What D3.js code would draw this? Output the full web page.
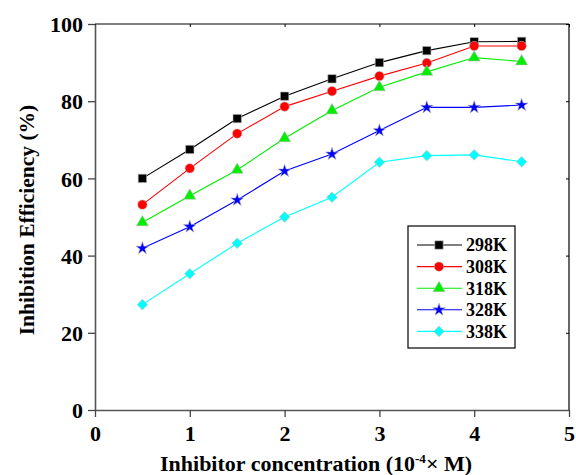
<!DOCTYPE html>
<html>
<head>
<meta charset="utf-8">
<script src="https://cdn.jsdelivr.net/npm/d3@7"></script>
<style>
  body { margin: 0; background: #fff; }
  text { font-family: "Liberation Serif", "Times New Roman", serif; font-weight: bold; }
</style>
</head>
<body>
<svg id="chart"></svg>
<script>
// 1) Data ------------------------------------------------------------
const concentration = [0.5, 1, 1.5, 2, 2.5, 3, 3.5, 4, 4.5];
const ie298 = [60.0, 67.5, 75.5, 81.3, 85.8, 90.0, 93.1, 95.4, 95.5];
const ie308 = [53.2, 62.6, 71.6, 78.6, 82.6, 86.5, 89.9, 94.3, 94.3];
const ie318 = [48.6, 55.5, 62.2, 70.4, 77.6, 83.6, 87.6, 91.3, 90.3];
const ie328 = [41.9, 47.5, 54.4, 61.9, 66.3, 72.4, 78.4, 78.4, 79.0];
const ie338 = [27.3, 35.3, 43.2, 50.0, 55.1, 64.2, 65.9, 66.1, 64.3];
const seriesNames = ['298K', '308K', '318K', '328K', '338K'];
const xTicks = [0, 1, 2, 3, 4, 5];
const yTicks = [0, 20, 40, 60, 80, 100];

const series = [
  { name: seriesNames[0], values: ie298, color: '#000000', symbol: d3.symbolSquare, size: 70, rot: 0 },
  { name: seriesNames[1], values: ie308, color: '#ff0000', symbol: d3.symbolCircle, size: 70, rot: 0 },
  { name: seriesNames[2], values: ie318, color: '#00ee00', symbol: d3.symbolTriangle, size: 62, rot: 0 },
  { name: seriesNames[3], values: ie328, color: '#0000ff', symbol: d3.symbolStar, size: 52, rot: 0 },
  { name: seriesNames[4], values: ie338, color: '#00ffff', symbol: d3.symbolSquare, size: 56, rot: 45 }
];

// 2) Dimensions ------------------------------------------------------
const width = 576, height = 475;
const margin = { left: 95, right: 7, top: 24, bottom: 65 };
const svg = d3.select('#chart').attr('width', width).attr('height', height);

const x = d3.scaleLinear().domain([0, 5]).range([margin.left, width - margin.right]);
const y = d3.scaleLinear().domain([0, 100]).range([height - margin.bottom, margin.top]);

// 3) Frame -----------------------------------------------------------
svg.append('line').attr('x1', x(0)).attr('x2', x(5)).attr('y1', y(100)).attr('y2', y(100))
  .attr('stroke', '#000').attr('stroke-width', 1.2);
svg.append('line').attr('x1', x(5)).attr('x2', x(5)).attr('y1', y(0)).attr('y2', y(100))
  .attr('stroke', '#000').attr('stroke-width', 1.2);

// inward ticks on top and right
svg.append('g').attr('transform', `translate(0,${y(100)})`)
  .call(d3.axisBottom(x).tickValues(xTicks).tickSize(3).tickFormat(''))
  .call(g => g.select('.domain').remove());
svg.append('g').attr('transform', `translate(${x(5)},0)`)
  .call(d3.axisLeft(y).tickValues(yTicks).tickSize(3).tickFormat(''))
  .call(g => g.select('.domain').remove());

// 4) Axes ------------------------------------------------------------
const xAxis = svg.append('g').attr('transform', `translate(0,${y(0)})`)
  .call(d3.axisBottom(x).tickValues(xTicks).tickFormat(d3.format('d'))
    .tickSize(7).tickSizeOuter(0).tickPadding(8));
const yAxis = svg.append('g').attr('transform', `translate(${x(0)},0)`)
  .call(d3.axisLeft(y).tickValues(yTicks).tickFormat(d3.format('d'))
    .tickSize(7).tickSizeOuter(0).tickPadding(5));

[xAxis, yAxis].forEach(g => {
  g.select('.domain').attr('stroke', '#555').attr('stroke-width', 1.6);
  g.selectAll('.tick line').attr('stroke', '#444').attr('stroke-width', 1.3);
  g.selectAll('.tick text').attr('fill', '#000').style('font-size', '22px')
    .style('font-family', '"Liberation Serif", serif').style('font-weight', 'bold');
});
yAxis.selectAll('.tick text').attr('dy', '0.35em');

// 5) Titles ----------------------------------------------------------
const xTitle = svg.append('text')
  .attr('x', 316)
  .attr('y', 471)
  .attr('text-anchor', 'middle')
  .style('font-size', '22px');
xTitle.append('tspan').text('Inhibitor concentration (10');
xTitle.append('tspan').attr('dy', -8).style('font-size', '13px').text('-4');
xTitle.append('tspan').attr('dy', 8).text('× M)');

svg.append('text')
  .attr('transform', `translate(34,220) rotate(-90)`)
  .attr('text-anchor', 'middle')
  .style('font-size', '21.5px')
  .text('Inhibition Efficiency (%)');

// 6) Series ----------------------------------------------------------
const line = d3.line().x(d => x(d[0])).y(d => y(d[1]));

series.forEach(s => {
  const pts = concentration.map((c, i) => [c, s.values[i]]);
  svg.append('path').datum(pts)
    .attr('d', line)
    .attr('fill', 'none')
    .attr('stroke', s.color)
    .attr('stroke-width', 1.1);
  svg.selectAll(null).data(pts).enter().append('path')
    .attr('transform', d => `translate(${x(d[0])},${y(d[1])}) rotate(${s.rot})`)
    .attr('d', d3.symbol().type(s.symbol).size(s.size))
    .attr('fill', s.color)
    .attr('stroke', '#bbb')
    .attr('stroke-width', 0.6);
});

// 7) Legend ----------------------------------------------------------
const lg = svg.append('g').attr('transform', 'translate(408,226)');
lg.append('rect').attr('width', 107).attr('height', 122)
  .attr('fill', '#fff').attr('stroke', '#000').attr('stroke-width', 1.2);

series.forEach((s, i) => {
  const ly = 19 + i * 21.6;
  lg.append('line').attr('x1', 9).attr('x2', 54).attr('y1', ly).attr('y2', ly)
    .attr('stroke', s.color).attr('stroke-width', 1.1);
  lg.append('path').attr('transform', `translate(31,${ly}) rotate(${s.rot})`)
    .attr('d', d3.symbol().type(s.symbol).size(s.size))
    .attr('fill', s.color).attr('stroke', '#bbb').attr('stroke-width', 0.6);
  lg.append('text').attr('x', 58).attr('y', ly).attr('dy', '0.35em')
    .style('font-size', '18px').text(s.name);
});
</script>
</body>
</html>
